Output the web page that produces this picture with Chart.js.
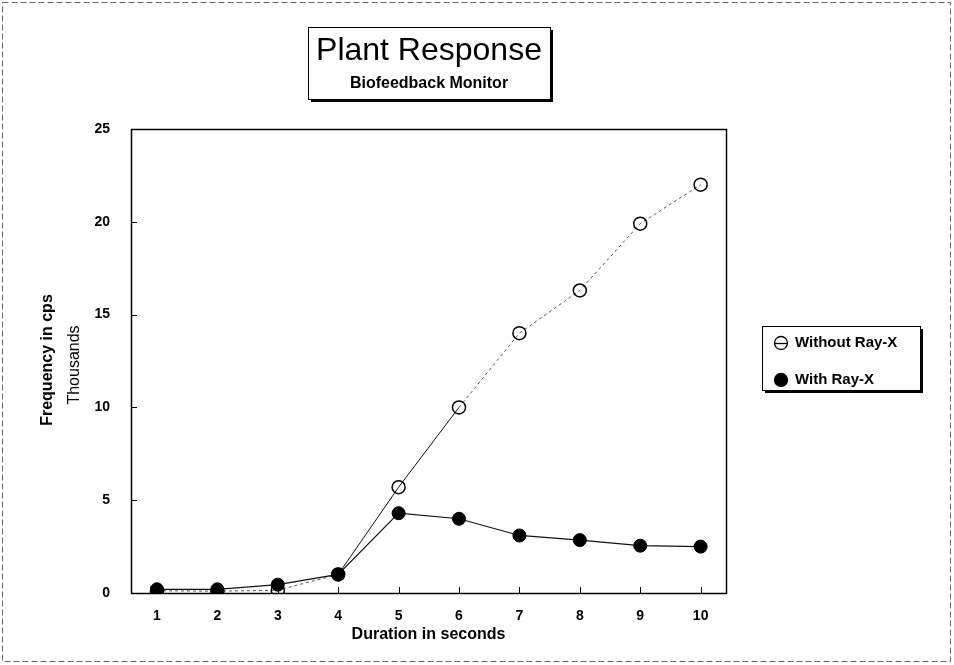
<!DOCTYPE html>
<html>
<head>
<meta charset="utf-8">
<script src="https://cdn.jsdelivr.net/npm/chart.js@4.4.1/dist/chart.umd.min.js"></script>
<style>
  html, body { margin: 0; padding: 0; background: #fff; }
  #wrap { width: 954px; height: 665px; }
</style>
</head>
<body>
<div id="wrap"><canvas id="c" width="954" height="665"></canvas></div>
<script>
// ---- data ----
const durations = [1, 2, 3, 4, 5, 6, 7, 8, 9, 10];
const withoutRayX = [0.12, 0.1, 0.15, 1.0, 5.7, 10.0, 14.0, 16.3, 19.9, 22.0];
const withRayX = [0.2, 0.2, 0.45, 1.0, 4.3, 4.0, 3.1, 2.85, 2.55, 2.5];
const yTicks = [0, 5, 10, 15, 20, 25];
const chartTitle = "Plant Response";
const chartSubtitle = "Biofeedback Monitor";
const xTitle = "Duration in seconds";
const yTitle = "Frequency in cps";
const yUnit = "Thousands";
const seriesNames = ["Without Ray-X", "With Ray-X"];

const FONT = "'Liberation Sans', Arial, Helvetica, sans-serif";

const decor = {
  id: 'decor',
  beforeDraw(chart) {
    const ctx = chart.ctx;
    ctx.save();
    ctx.fillStyle = '#fff';
    ctx.fillRect(0, 0, chart.width, chart.height);
    // outer dashed border
    ctx.strokeStyle = '#666';
    ctx.lineWidth = 1;
    ctx.setLineDash([6, 3]);
    ctx.strokeRect(2.5, 2.5, 948, 659);
    ctx.setLineDash([]);
    ctx.restore();
  },
  beforeDatasetsDraw(chart) {
    const ctx = chart.ctx;
    const a = chart.chartArea;
    const xs = chart.scales.x, ys = chart.scales.y;
    ctx.save();
    ctx.strokeStyle = '#000';
    ctx.lineWidth = 1;
    // inward ticks
    ctx.beginPath();
    ys.ticks.forEach(t => {
      const y = Math.round(ys.getPixelForValue(t.value)) + 0.5;
      ctx.moveTo(a.left, y); ctx.lineTo(a.left + 6, y);
    });
    xs.ticks.forEach(t => {
      const x = Math.round(xs.getPixelForValue(t.value)) + 0.5;
      ctx.moveTo(x, a.bottom); ctx.lineTo(x, a.bottom - 6);
    });
    ctx.stroke();
    // frame
    ctx.lineWidth = 1.5;
    ctx.strokeRect(a.left + 0.5, a.top + 0.5, a.right - a.left, a.bottom - a.top);
    ctx.restore();
  },
  afterDraw(chart) {
    const ctx = chart.ctx;
    const dsets = chart.data.datasets;
    ctx.save();
    // title box
    const tb = {x: 308, y: 27, w: 242, h: 72};
    ctx.fillStyle = '#000';
    ctx.fillRect(tb.x + 3, tb.y + 3, tb.w, tb.h);
    ctx.fillStyle = '#fff';
    ctx.fillRect(tb.x, tb.y, tb.w, tb.h);
    ctx.strokeStyle = '#000';
    ctx.lineWidth = 1;
    ctx.strokeRect(tb.x + 0.5, tb.y + 0.5, tb.w, tb.h);
    ctx.fillStyle = '#000';
    ctx.textAlign = 'center';
    ctx.textBaseline = 'alphabetic';
    ctx.font = '32px ' + FONT;
    ctx.fillText(chartTitle, tb.x + tb.w / 2, 60);
    ctx.font = 'bold 16px ' + FONT;
    ctx.fillText(chartSubtitle, tb.x + tb.w / 2, 88);

    // y axis titles
    ctx.save();
    ctx.translate(48, 360);
    ctx.rotate(-Math.PI / 2);
    ctx.textBaseline = 'middle';
    ctx.font = 'bold 16px ' + FONT;
    ctx.fillText(yTitle, 0, 0);
    ctx.restore();
    ctx.save();
    ctx.translate(75, 365);
    ctx.rotate(-Math.PI / 2);
    ctx.textBaseline = 'middle';
    ctx.font = '16px ' + FONT;
    ctx.fillText(yUnit, 0, 0);
    ctx.restore();

    // legend box
    const lb = {x: 762, y: 326, w: 158, h: 64};
    ctx.fillStyle = '#000';
    ctx.fillRect(lb.x + 3, lb.y + 3, lb.w, lb.h);
    ctx.fillStyle = '#fff';
    ctx.fillRect(lb.x, lb.y, lb.w, lb.h);
    ctx.strokeRect(lb.x + 0.5, lb.y + 0.5, lb.w, lb.h);
    const rows = [343, 380];
    dsets.forEach((ds, i) => {
      const y = rows[i];
      const cx = 781;
      ctx.beginPath();
      ctx.arc(cx, y, ds.pointRadius, 0, Math.PI * 2);
      ctx.fillStyle = ds.pointBackgroundColor;
      ctx.fill();
      ctx.lineWidth = 1.3;
      ctx.strokeStyle = ds.pointBorderColor;
      ctx.stroke();
      if (i === 0) {
        ctx.beginPath();
        ctx.moveTo(cx - 6, y + 0.5); ctx.lineTo(cx + 6, y + 0.5);
        ctx.stroke();
      }
      ctx.fillStyle = '#000';
      ctx.textAlign = 'left';
      ctx.textBaseline = 'middle';
      ctx.font = 'bold 15px ' + FONT;
      ctx.fillText(ds.label, 795, y);
    });
    ctx.restore();
  }
};

const solidSegs = [3, 4];

new Chart(document.getElementById('c'), {
  type: 'line',
  data: {
    datasets: [
      {
        label: seriesNames[0],
        data: durations.map((d, i) => ({x: d, y: withoutRayX[i]})),
        borderColor: '#444',
        borderWidth: 1,
        borderDash: [3, 3],
        segment: {
          borderDash: ctx => solidSegs.includes(ctx.p0DataIndex) ? [] : [3, 3],
          borderColor: ctx => solidSegs.includes(ctx.p0DataIndex) ? '#111' : '#555'
        },
        pointRadius: 6.5,
        pointBackgroundColor: 'rgba(255,255,255,0)',
        pointBorderColor: '#000',
        pointBorderWidth: 1.5,
        order: 1,
        tension: 0
      },
      {
        label: seriesNames[1],
        data: durations.map((d, i) => ({x: d, y: withRayX[i]})),
        borderColor: '#111',
        borderWidth: 1.2,
        pointRadius: 6.5,
        pointBackgroundColor: '#000',
        pointBorderColor: '#000',
        pointBorderWidth: 1,
        order: 0,
        tension: 0
      }
    ]
  },
  options: {
    responsive: false,
    animation: false,
    devicePixelRatio: 1,
    layout: { padding: { left: 0, top: 129, right: 228, bottom: 0 } },
    plugins: {
      legend: { display: false },
      title: { display: false },
      tooltip: { enabled: false }
    },
    scales: {
      x: {
        type: 'linear',
        min: 0.57,
        max: 10.42,
        afterBuildTicks: s => { s.ticks = durations.map(v => ({value: v})); },
        afterFit: s => { s.height = 72; },
        grid: { display: false },
        border: { display: false },
        ticks: {
          padding: 7,
          color: '#000',
          font: { family: FONT, size: 14, weight: 'bold' },
          maxRotation: 0
        },
        title: {
          display: true,
          text: xTitle,
          color: '#000',
          font: { family: FONT, size: 16, weight: 'bold' },
          padding: { top: 0, bottom: 21 }
        }
      },
      y: {
        min: 0,
        max: 25,
        afterBuildTicks: s => { s.ticks = yTicks.map(v => ({value: v})); },
        afterFit: s => { s.width = 131; },
        grid: { display: false },
        border: { display: false },
        ticks: {
          padding: 13,
          color: '#000',
          font: { family: FONT, size: 14, weight: 'bold' }
        }
      }
    }
  },
  plugins: [decor]
});
</script>
</body>
</html>
